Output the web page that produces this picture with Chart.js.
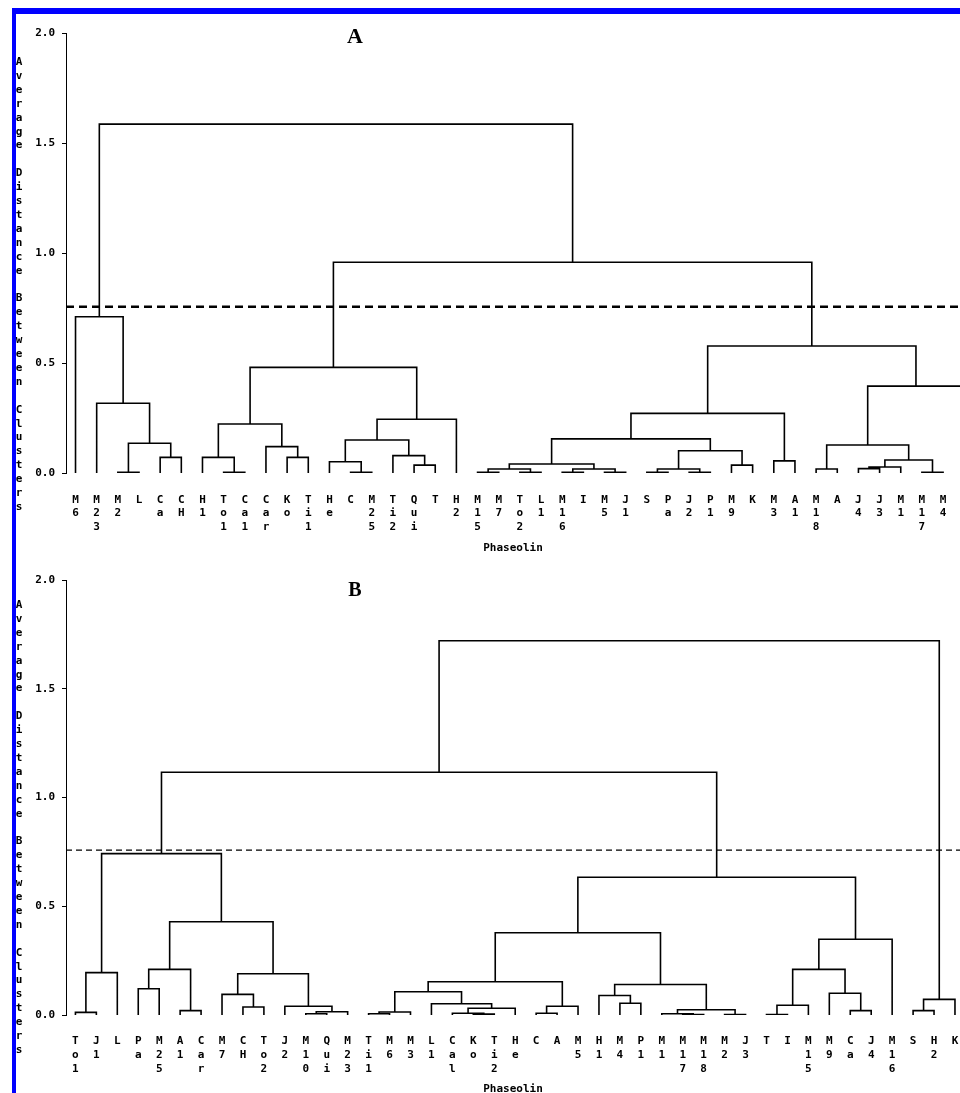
<!DOCTYPE html>
<html>
<head>
<meta charset="utf-8">
<script src="https://cdn.jsdelivr.net/npm/chart.js@4.4.0/dist/chart.umd.min.js"></script>
<style>
  html, body { margin: 0; padding: 0; background: #fff; overflow: hidden; }
  body { width: 960px; height: 1093px; position: relative; }
  .panel { position: absolute; left: 0; width: 960px; }
  .panel canvas { position: absolute; left: 0; top: 0; }
  .frame-top { position: absolute; left: 12px; top: 8px; width: 948px; height: 6px; background: #0000ff; z-index: 2; }
  .frame-left { position: absolute; left: 12px; top: 8px; width: 4px; height: 1085px; background: #0000ff; z-index: 2; }
  .ytitle { position: absolute; left: 14px; width: 10px; text-align: center; white-space: pre;
            font: bold 11px 'DejaVu Sans Mono', monospace; line-height: 13.9px; color: #000; z-index: 3; }
  .letter { position: absolute; transform: translateX(-50%); font-family: 'Liberation Serif', serif;
            font-weight: bold; color: #000; z-index: 3; }
</style>
</head>
<body>
<div class="panel" style="top:0;height:560px"><canvas id="chartA" width="960" height="560"></canvas></div>
<div class="panel" style="top:560px;height:545px"><canvas id="chartB" width="960" height="545"></canvas></div>
<div class="frame-top"></div>
<div class="frame-left"></div>
<div class="letter" style="left:355px;top:25px;font-size:22px;line-height:22px">A</div>
<div class="letter" style="left:355px;top:579px;font-size:20px;line-height:20px">B</div>
<div class="ytitle" id="ytitleA" style="top:55px"></div>
<div class="ytitle" id="ytitleB" style="top:598px"></div>

<script>
const yTitle = 'Average Distance Between Clusters';
const xTitle = 'Phaseolin';
const yTicks = [0, 0.5, 1.0, 1.5, 2.0];

// --- Panel A: leaf order left to right (last leaf sits just past the right edge) ---
const leavesA = ['M6', 'M23', 'M2', 'L', 'Ca', 'CH', 'H1', 'To1', 'Ca1', 'Car', 'Ko', 'Ti1', 'He', 'C',
    'M25', 'Ti2', 'Qui', 'T', 'H2', 'M15', 'M7', 'To2', 'L1', 'M16', 'I', 'M5', 'J1', 'S', 'Pa', 'J2',
    'P1', 'M9', 'K', 'M3', 'A1', 'M18', 'A', 'J4', 'J3', 'M1', 'M17', 'M4', ''];
// merges: [child, child, height]; ids < n are leaves, n + k is the k-th merge
const mergesA = [
    [2, 3, 0.003], [4, 5, 0.071], [43, 44, 0.135], [1, 45, 0.317], [0, 46, 0.71],
    [7, 8, 0.003], [6, 48, 0.071], [10, 11, 0.071], [9, 50, 0.12], [49, 51, 0.223],
    [13, 14, 0.003], [12, 53, 0.051], [16, 17, 0.036], [15, 55, 0.079], [54, 56, 0.15],
    [57, 18, 0.244], [52, 58, 0.48],
    [19, 20, 0.003], [21, 22, 0.003], [60, 61, 0.018], [23, 24, 0.003], [25, 26, 0.003],
    [63, 64, 0.018], [62, 65, 0.041], [27, 28, 0.003], [29, 30, 0.003], [67, 68, 0.018],
    [31, 32, 0.036], [69, 70, 0.101], [66, 71, 0.155], [33, 34, 0.055], [72, 73, 0.271],
    [35, 36, 0.018], [37, 38, 0.02], [76, 39, 0.027], [40, 41, 0.003], [77, 78, 0.059],
    [75, 79, 0.127], [80, 42, 0.395], [74, 81, 0.577], [59, 82, 0.958], [47, 83, 1.586]
];
const cutA = 0.756;

// --- Panel B ---
const leavesB = ['To1', 'J1', 'L', 'Pa', 'M25', 'A1', 'Car', 'M7', 'CH', 'To2', 'J2', 'M10', 'Qui',
    'M23', 'Ti1', 'M6', 'M3', 'L1', 'Cal', 'Ko', 'Ti2', 'He', 'C', 'A', 'M5', 'H1', 'M4', 'P1', 'M1',
    'M17', 'M18', 'M2', 'J3', 'T', 'I', 'M15', 'M9', 'Ca', 'J4', 'M16', 'S', 'H2', 'K'];
const mergesB = [
    [0, 1, 0.012], [43, 2, 0.195], [3, 4, 0.121], [5, 6, 0.02], [45, 46, 0.21],
    [8, 9, 0.037], [7, 48, 0.095], [11, 12, 0.006], [50, 13, 0.015], [10, 51, 0.04],
    [49, 52, 0.19], [47, 53, 0.429], [44, 54, 0.742],
    [14, 15, 0.006], [56, 16, 0.014], [19, 20, 0.004], [18, 58, 0.008], [59, 21, 0.031],
    [17, 60, 0.052], [57, 61, 0.107], [22, 23, 0.008], [63, 24, 0.04], [62, 64, 0.153],
    [26, 27, 0.054], [25, 66, 0.09], [29, 30, 0.002], [28, 68, 0.006], [31, 32, 0.002],
    [69, 70, 0.024], [67, 71, 0.14], [65, 72, 0.378],
    [33, 34, 0.002], [74, 35, 0.045], [37, 38, 0.02], [36, 76, 0.1], [75, 77, 0.21],
    [78, 39, 0.348], [73, 79, 0.633], [55, 80, 1.116], [40, 41, 0.02], [82, 42, 0.072],
    [81, 83, 1.721]
];
const cutB = 0.758;

const MONO = "'DejaVu Sans Mono', 'Liberation Mono', monospace";

// turn the merge list into U shaped line runs separated by gaps
function buildSegments(n, merges) {
    const xs = [], hs = [];
    for (let i = 0; i < n; i++) { xs.push(i); hs.push(0); }
    const pts = [];
    merges.forEach(([a, b, h]) => {
        pts.push({ x: xs[a], y: hs[a] }, { x: xs[a], y: h }, { x: xs[b], y: h }, { x: xs[b], y: hs[b] });
        pts.push({ x: xs[b], y: null });
        xs.push((xs[a] + xs[b]) / 2);
        hs.push(h);
    });
    return pts;
}

function makeDendrogram(canvasId, cfg) {
    const ctx = document.getElementById(canvasId).getContext('2d');
    return new Chart(ctx, {
        type: 'line',
        data: {
            datasets: [
                {
                    data: buildSegments(cfg.labels.length, cfg.merges),
                    borderColor: '#000',
                    borderWidth: 1.6,
                    borderJoinStyle: 'miter',
                    pointRadius: 0,
                    tension: 0,
                    spanGaps: false,
                    fill: false
                },
                {
                    data: [{ x: cfg.xMin, y: cfg.cut }, { x: cfg.xMax, y: cfg.cut }],
                    borderColor: '#000',
                    borderWidth: cfg.cutWidth,
                    borderDash: cfg.cutDash,
                    pointRadius: 0,
                    fill: false
                }
            ]
        },
        options: {
            responsive: false,
            animation: false,
            events: [],
            layout: { padding: { top: cfg.padTop, left: 0, right: 0, bottom: 0 } },
            plugins: { legend: { display: false }, tooltip: { enabled: false } },
            scales: {
                x: {
                    type: 'linear',
                    min: cfg.xMin,
                    max: cfg.xMax,
                    grid: { display: false },
                    border: { display: false },
                    afterBuildTicks: s => {
                        s.ticks = cfg.labels.map((l, i) => ({ value: i })).filter(t => t.value <= cfg.xMax);
                    },
                    afterFit: s => { s.height = cfg.xAxisHeight; s.paddingLeft = 0; s.paddingRight = 0; },
                    ticks: {
                        autoSkip: false,
                        maxRotation: 0,
                        minRotation: 0,
                        padding: cfg.tickPad,
                        color: '#000',
                        font: { family: MONO, size: 11, weight: 'bold', lineHeight: cfg.lineH },
                        callback: v => (cfg.labels[v] || '').split('')
                    },
                    title: {
                        display: true,
                        text: xTitle,
                        color: '#000',
                        font: { family: MONO, size: 11, weight: 'bold' },
                        padding: { top: 0, bottom: cfg.titlePad }
                    }
                },
                y: {
                    min: 0,
                    max: 2,
                    afterBuildTicks: s => { s.ticks = yTicks.map(v => ({ value: v })); },
                    afterFit: s => { s.width = 66; s.paddingTop = 0; s.paddingBottom = 0; },
                    ticks: {
                        padding: 7,
                        color: '#000',
                        font: { family: MONO, size: 11, weight: 'bold' },
                        callback: v => v.toFixed(1)
                    },
                    grid: { drawOnChartArea: false, drawTicks: true, tickLength: 4, color: '#000' },
                    border: { display: true, color: '#000', width: 1 }
                }
            }
        }
    });
}

document.getElementById('ytitleA').textContent = yTitle.split('').join('\n');
document.getElementById('ytitleB').textContent = yTitle.split('').join('\n');

makeDendrogram('chartA', {
    labels: leavesA, merges: mergesA, cut: cutA,
    xMin: -0.45, xMax: 41.8,
    padTop: 33, xAxisHeight: 87, tickPad: 12, lineH: 1.245, titlePad: 5,
    cutWidth: 2.5, cutDash: [8, 5]
});

makeDendrogram('chartB', {
    labels: leavesB, merges: mergesB, cut: cutB,
    xMin: -0.45, xMax: 42.24,
    padTop: 20, xAxisHeight: 90, tickPad: 11, lineH: 1.29, titlePad: 9,
    cutWidth: 1.3, cutDash: [6, 4]
});
</script>
</body>
</html>
